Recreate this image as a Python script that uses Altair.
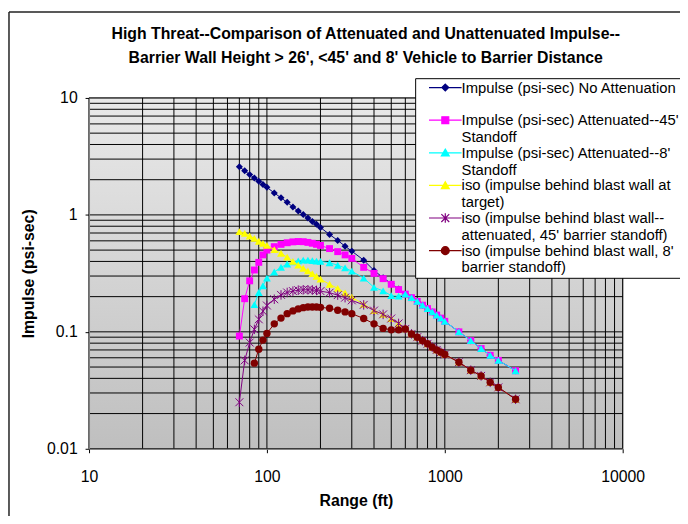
import altair as alt
import pandas as pd

TITLE = [
    "High Threat--Comparison of Attenuated and Unattenuated Impulse--",
    "Barrier Wall Height > 26', <45' and 8' Vehicle to Barrier Distance",
]
X_TITLE = "Range (ft)"
Y_TITLE = "Impulse (psi-sec)"

# Range values (ft)
RANGE_FT = [70, 75, 80, 85, 90, 95, 100, 110, 120, 130, 140, 150, 160, 170, 180, 190, 200,
            225, 250, 275, 300, 350, 400, 450, 500, 550, 600, 650, 700, 750, 800, 850, 900,
            950, 1000, 1200, 1400, 1600, 1800, 2000, 2500]

NO_ATTEN = [2.58, 2.38, 2.21, 2.07, 1.94, 1.82, 1.72, 1.54, 1.40, 1.28, 1.17, 1.08, 1.01, 0.94,
            0.88, 0.83, 0.78, 0.68, 0.605, 0.54, 0.49, 0.41, 0.335, 0.29, 0.258, 0.232, 0.211,
            0.196, 0.182, 0.169, 0.158, 0.148, 0.139, 0.131, 0.123, 0.100, 0.084, 0.072, 0.063,
            0.057, 0.0465]

ATTEN_45 = [0.092, 0.192, 0.273, 0.338, 0.393, 0.455, 0.50, 0.535, 0.56, 0.578, 0.588, 0.592,
            0.59, 0.582, 0.572, 0.56, 0.548, 0.515, 0.485, 0.455, 0.425, 0.356, 0.316, 0.285,
            0.255, 0.23, 0.21, 0.196, 0.182, 0.169, 0.158, 0.148, 0.139, 0.131, 0.123, 0.100,
            0.084, 0.072, 0.063, 0.057, 0.0465]

# starts at 85 ft
ATTEN_8 = [0.171, 0.217, 0.248, 0.288, 0.325, 0.357, 0.38, 0.396, 0.405, 0.41, 0.41, 0.407,
           0.403, 0.40, 0.39, 0.371, 0.352, 0.33, 0.288, 0.24, 0.224, 0.204, 0.202, 0.21, 0.196,
           0.182, 0.169, 0.158, 0.148, 0.139, 0.131, 0.123, 0.100, 0.084, 0.072, 0.063, 0.057,
           0.0465]

ISO_TARGET = [0.72, 0.695, 0.66, 0.63, 0.595, 0.57, 0.548, 0.505, 0.47, 0.435, 0.40, 0.372,
              0.35, 0.332, 0.315, 0.298, 0.282, 0.255, 0.235, 0.215, 0.198, 0.172, 0.152, 0.141,
              0.13, 0.118, 0.106, 0.096, 0.09, 0.084, 0.079, 0.074, 0.07, 0.067, 0.064, 0.055,
              0.047, 0.042, 0.037, 0.0335, 0.0265]

ISO_45 = [0.025, 0.057, 0.081, 0.105, 0.128, 0.15, 0.168, 0.19, 0.207, 0.217, 0.223, 0.227,
          0.229, 0.229, 0.228, 0.226, 0.223, 0.216, 0.206, 0.196, 0.186, 0.17, 0.152, 0.141,
          0.13, 0.118, 0.106, 0.096, 0.09, 0.084, 0.079, 0.074, 0.07, 0.067, 0.064, 0.055,
          0.047, 0.042, 0.037, 0.0335, 0.0265]

# starts at 85 ft
ISO_8 = [0.054, 0.071, 0.085, 0.097, 0.117, 0.131, 0.143, 0.151, 0.157, 0.161, 0.163, 0.163,
         0.163, 0.162, 0.159, 0.153, 0.148, 0.143, 0.13, 0.117, 0.107, 0.104, 0.104, 0.106,
         0.096, 0.09, 0.084, 0.079, 0.074, 0.07, 0.067, 0.064, 0.055, 0.047, 0.042, 0.037,
         0.0335, 0.0265]

LEGEND_LABELS = [
    "Impulse (psi-sec) No Attenuation| ",
    "Impulse (psi-sec) Attenuated--45'|Standoff",
    "Impulse (psi-sec) Attenuated--8'|Standoff",
    "iso (impulse behind blast wall at|target)",
    "iso (impulse behind blast wall--|attenuated, 45' barrier standoff)",
    "iso (impulse behind blast wall, 8'|barrier standoff)",
]

X_TICKS = [10, 100, 1000, 10000]
Y_TICKS = [0.01, 0.1, 1, 10]
X_GRID = [m * 10 ** e for e in range(1, 4) for m in range(1, 10)] + [10000]
Y_GRID = [round(m * 10.0 ** e, 6) for e in range(-2, 1) for m in range(1, 10)] + [10]

COLORS = ["#000080", "#FF00FF", "#00FFFF", "#FFFF00", "#800080", "#800000"]

W, H = 540, 355
FONT = "Liberation Sans"

ASTER = "M-1,-1L1,1M-1,1L1,-1M0,-1.2L0,1.2"

x_scale = alt.Scale(type="log", domain=[10, 10000], nice=False)
y_scale = alt.Scale(type="log", domain=[0.01, 10], nice=False)

common_axis = dict(grid=False, labelFont=FONT, labelFontSize=16, labelColor="black",
                   titleFont=FONT, titleFontSize=16, titleFontWeight="bold", titleColor="black",
                   tickSize=4, tickColor="black", domainColor="#808080", zindex=1,
                   labelFlush=False, labelOverlap=False)
x_axis = alt.Axis(values=X_TICKS, format="d", title=X_TITLE, labelPadding=16,
                  titlePadding=8, **common_axis)
y_axis = alt.Axis(values=Y_TICKS, format="~g", title=Y_TITLE, labelPadding=8,
                  titlePadding=10, **common_axis)


def X():
    return alt.X("x:Q", scale=x_scale, axis=x_axis)


def Y():
    return alt.Y("y:Q", scale=y_scale, axis=y_axis)


one = pd.DataFrame({"a": [0]})

# chart-area frame (left and top edges) and legend drop shadow
frame_left = alt.Chart(one).mark_rule(color="#222222", strokeWidth=1.5).encode(
    x=alt.value(-81), y=alt.value(-87), y2=alt.value(H + 70))
frame_top = alt.Chart(one).mark_rule(color="#222222", strokeWidth=1.5).encode(
    x=alt.value(-81), x2=alt.value(W + 60), y=alt.value(-87))

gradient = alt.LinearGradient(
    gradient="linear",
    stops=[alt.GradientStop(color="#e9e9e9", offset=0),
           alt.GradientStop(color="#bfbfbf", offset=1)],
    x1=0, x2=0, y1=0, y2=1,
)
background = alt.Chart(one).mark_rect(
    fill=gradient, stroke="#808080", strokeWidth=1
).encode(x=alt.value(0), x2=alt.value(W), y=alt.value(0), y2=alt.value(H))

vgrid = alt.Chart(pd.DataFrame({"x": X_GRID})).mark_rule(
    color="black", strokeWidth=1
).encode(x=X(), y=alt.value(0), y2=alt.value(H))
hgrid = alt.Chart(pd.DataFrame({"y": Y_GRID})).mark_rule(
    color="black", strokeWidth=1
).encode(y=Y(), x=alt.value(0), x2=alt.value(W))

series = [
    (RANGE_FT, NO_ATTEN, COLORS[0], "diamond", 50, True),
    (RANGE_FT, ATTEN_45, COLORS[1], "square", 49, True),
    (RANGE_FT[3:], ATTEN_8, COLORS[2], "triangle-up", 64, True),
    (RANGE_FT, ISO_TARGET, COLORS[3], "triangle-up", 64, True),
    (RANGE_FT, ISO_45, COLORS[4], ASTER, 64, False),
    (RANGE_FT[3:], ISO_8, COLORS[5], "circle", 56, True),
]

layers = [frame_left, frame_top, background, vgrid, hgrid]
for xs, ys, color, shape, size, filled in series:
    df = pd.DataFrame({"x": xs, "y": ys})
    layers.append(alt.Chart(df).mark_line(color=color, strokeWidth=1).encode(x=X(), y=Y()))
    layers.append(alt.Chart(df).mark_point(shape=shape, size=size, filled=filled, color=color,
                                           opacity=1, strokeWidth=1).encode(x=X(), y=Y()))

shadow = alt.Chart(one).mark_rect(color="black").encode(
    x=alt.value(334), x2=alt.value(W + 60), y=alt.value(-16), y2=alt.value(182))
layers.append(shadow)


def sym(marker, d=0.0):
    line = f"M-3.3,{d}L3.3,{d}"
    if marker == "diamond":
        m = f"M0,{d-0.7}L0.7,{d}L0,{d+0.7}L-0.7,{d}Z"
    elif marker == "square":
        m = f"M-0.7,{d-0.7}L0.7,{d-0.7}L0.7,{d+0.7}L-0.7,{d+0.7}Z"
    elif marker == "triangle":
        m = f"M0,{d-0.75}L0.8,{d+0.65}L-0.8,{d+0.65}Z"
    elif marker == "star":
        m = (f"M-0.8,{d-0.8}L0.8,{d+0.8}M-0.8,{d+0.8}L0.8,{d-0.8}"
             f"M0,{d-0.95}L0,{d+0.95}")
    else:
        m = f"M-0.8,{d}A0.8,0.8 0 1,0 0.8,{d}A0.8,0.8 0 1,0 -0.8,{d}Z"
    return line + m


LEGEND_PATHS = [sym("diamond"), sym("square"), sym("triangle"), sym("triangle"),
                sym("star"), sym("circle")]

leg = alt.Legend(title=None, orient="none", legendX=330, legendY=-20, direction="vertical",
                 fillColor="white", strokeColor="black", padding=2, labelFont=FONT,
                 labelFontSize=15, labelColor="black", labelLimit=600,
                 labelExpr="split(datum.label, '|')", labelBaseline="middle",
                 symbolSize=100, symbolStrokeWidth=1.2, symbolOffset=21, labelOffset=9,
                 rowPadding=-1)

legend_layer = alt.Chart(pd.DataFrame({"series": LEGEND_LABELS})).transform_filter(
    "false"
).mark_point(filled=True, opacity=1, strokeWidth=1.2).encode(
    shape=alt.Shape("series:N", scale=alt.Scale(domain=LEGEND_LABELS, range=LEGEND_PATHS),
                    legend=leg),
    fill=alt.Fill("series:N", scale=alt.Scale(domain=LEGEND_LABELS, range=COLORS), legend=leg),
    stroke=alt.Stroke("series:N", scale=alt.Scale(domain=LEGEND_LABELS, range=COLORS),
                      legend=leg),
)
layers.append(legend_layer)

chart = alt.layer(*layers).properties(
    width=W, height=H,
    title=alt.Title(TITLE, font=FONT, fontSize=16, fontWeight="bold", color="black",
                    anchor="middle", frame="group", offset=-55, lineHeight=24, dx=10),
    autosize=alt.AutoSizeParams(type="none"),
    padding={"left": 82, "top": 88, "right": 58, "bottom": 65},
).configure_view(strokeWidth=0).configure(background="white")

chart.save("out.html", embed_options={"renderer": "svg", "actions": False})
